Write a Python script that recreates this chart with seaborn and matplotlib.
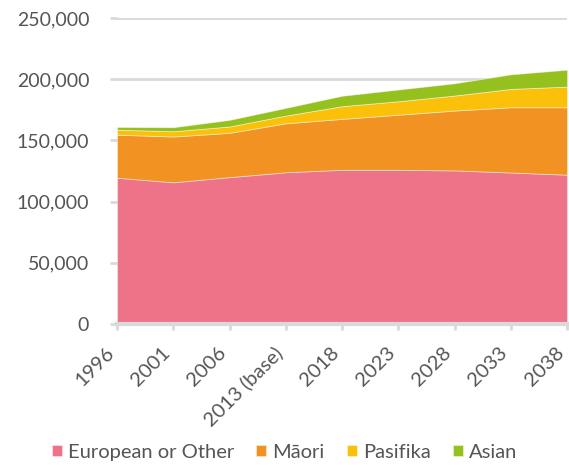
import numpy as np
import matplotlib
matplotlib.use("Agg")
import matplotlib.pyplot as plt
import matplotlib.transforms as mtransforms
import seaborn as sns

# ---------------- Data ---------------- #
years = ["1996", "2001", "2006", "2013 (base)", "2018", "2023", "2028", "2033", "2038"]
european = [119500, 115800, 120000, 124000, 126000, 126000, 125500, 123800, 122000]
maori = [35200, 37400, 36200, 40000, 41600, 45000, 48900, 53300, 55100]
pasifika = [4100, 4300, 5200, 6300, 10400, 11000, 12300, 15000, 16900]
asian = [2200, 3300, 5400, 6300, 8500, 9600, 10000, 11900, 13800]

labels = ["European or Other", "M\u0101ori", "Pasifika", "Asian"]
colors = ["#EE7389", "#F29222", "#FBC10A", "#95C11F"]

# ---------------- Style ---------------- #
sns.set_style("white")
plt.rcParams["font.family"] = ["Lato", "DejaVu Sans"]
text_col = "#555555"
grid_col = "#D9D9D9"

fig = plt.figure(figsize=(5.69, 4.65), dpi=100)
ax = fig.add_axes([0.2056, 0.3032, 0.791, 0.658])

x = np.arange(len(years))
ax.stackplot(x, european, maori, pasifika, asian, colors=colors, labels=labels,
             edgecolor=(1, 1, 1, 0.5), linewidth=0.6, zorder=2)

ax.set_xlim(0, len(years) - 1)
ax.set_ylim(0, 250000)
ax.set_yticks(np.arange(0, 250001, 50000))
ax.yaxis.set_major_formatter(matplotlib.ticker.FuncFormatter(lambda v, p: f"{int(v):,}"))
ax.set_xticks(x)

ax.grid(axis="y", color=grid_col, linewidth=2, zorder=0)
ax.set_axisbelow(True)
for s in ["top", "right", "left"]:
    ax.spines[s].set_visible(False)
ax.spines["bottom"].set_color(grid_col)
ax.spines["bottom"].set_linewidth(3)
ax.spines["bottom"].set_zorder(3)

ax.tick_params(axis="y", length=5, width=2, color=grid_col, labelsize=14,
               labelcolor=text_col, pad=15, left=True)
ax.tick_params(axis="x", length=4, width=2, color=grid_col, labelsize=14.5,
               labelcolor=text_col, pad=4, bottom=True)

ax.set_xticklabels(years, rotation=45, ha="right", va="center", rotation_mode="anchor")
# push the rotated labels down/left so they sit like the original
shift = mtransforms.ScaledTranslation(-6 / 100, -15 / 100, fig.dpi_scale_trans)
for lab in ax.get_xticklabels():
    lab.set_transform(lab.get_transform() + shift)

handles, lbls = ax.get_legend_handles_labels()
fig.legend(handles, lbls, loc="lower center", bbox_to_anchor=(0.5, -0.03), ncol=4,
           frameon=False, fontsize=14.5, handlelength=0.5, handleheight=0.5,
           handletextpad=0.3, columnspacing=1.1, labelcolor=text_col)

fig.savefig("out.png", dpi=100)
